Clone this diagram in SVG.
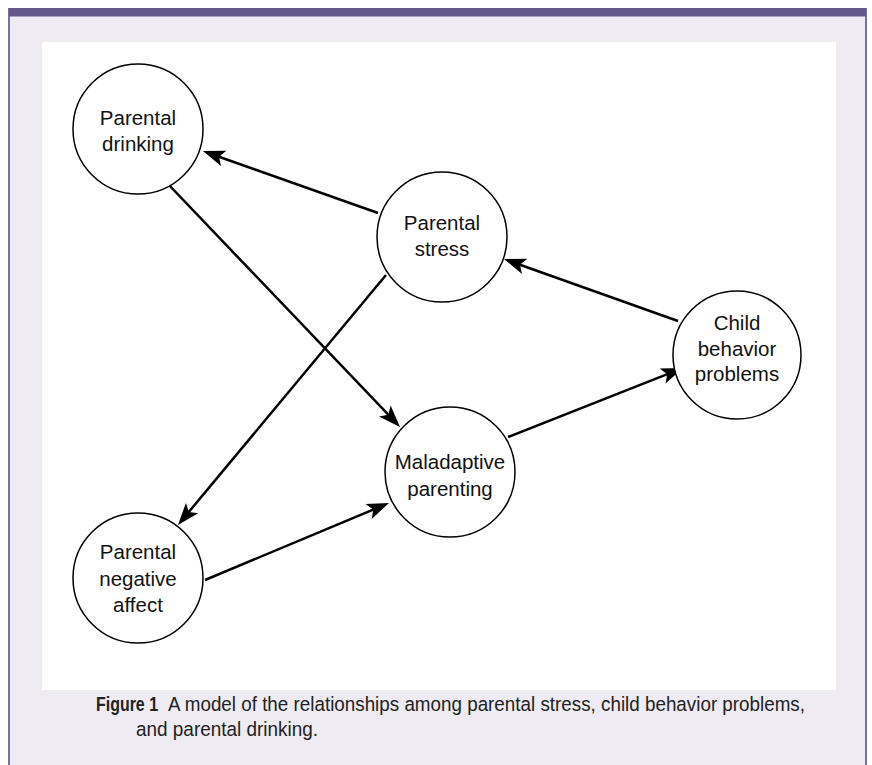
<svg xmlns="http://www.w3.org/2000/svg" width="872" height="765" viewBox="0 0 872 765">
<style>
.node circle{fill:#fff;stroke:#000;stroke-width:1.5}
.node text{font-family:"Liberation Sans",Arial,sans-serif;font-size:20.5px;fill:#111;text-anchor:middle}
.edge{stroke:#000;stroke-width:2.5;fill:none;marker-end:url(#ah)}
.cap{font-family:"Liberation Sans",Arial,sans-serif;font-size:20.5px;fill:#222}
</style>
<defs>
<marker id="ah" markerUnits="userSpaceOnUse" viewBox="-15 -9 24 18" markerWidth="24" markerHeight="18" refX="0" refY="0" orient="auto" overflow="visible">
<path d="M8,0 L-14,-8 L-9,0 L-14,8 Z" fill="#000"/>
</marker>
</defs>
<rect x="0" y="0" width="872" height="765" fill="#fff"/>
<rect x="9" y="8" width="857" height="757" fill="#eeecf2"/>
<line x1="9" y1="8" x2="9" y2="765" stroke="#7a6fa3" stroke-width="2"/>
<line x1="866" y1="8" x2="866" y2="765" stroke="#7a6fa3" stroke-width="2"/>
<rect x="9" y="8" width="857" height="8.5" fill="#645889"/>
<rect x="42" y="42" width="794" height="648" fill="#fff"/>
<g id="connectors">
<line class="edge" x1="378" y1="213" x2="210.5" y2="153.7"/>
<line class="edge" x1="168" y1="184" x2="394.5" y2="421.2"/>
<line class="edge" x1="386" y1="275" x2="183.1" y2="518.8"/>
<line class="edge" x1="205" y1="580" x2="381.6" y2="506.1"/>
<line class="edge" x1="508" y1="437" x2="675.6" y2="370.9"/>
<line class="edge" x1="678" y1="321" x2="511.5" y2="261.7"/>
</g>
<g id="parental-drinking" class="node">
<circle cx="138" cy="129" r="65"/>
<text x="138" y="125">Parental</text>
<text x="138" y="151">drinking</text>
</g>
<g id="parental-stress" class="node">
<circle cx="442" cy="237" r="65"/>
<text x="442" y="230">Parental</text>
<text x="442" y="256">stress</text>
</g>
<g id="child-behavior-problems" class="node">
<circle cx="737" cy="355" r="64"/>
<text x="737" y="330">Child</text>
<text x="737" y="356">behavior</text>
<text x="737" y="381">problems</text>
</g>
<g id="maladaptive-parenting" class="node">
<circle cx="450" cy="472" r="65"/>
<text x="450" y="469">Maladaptive</text>
<text x="450" y="496">parenting</text>
</g>
<g id="parental-negative-affect" class="node">
<circle cx="138" cy="578" r="65"/>
<text x="138" y="559">Parental</text>
<text x="138" y="586">negative</text>
<text x="138" y="612">affect</text>
</g>
<g id="caption">
<text class="cap" x="96" y="711" font-weight="bold" textLength="62" lengthAdjust="spacingAndGlyphs">Figure 1</text>
<text class="cap" x="168" y="711" textLength="637" lengthAdjust="spacingAndGlyphs">A model of the relationships among parental stress, child behavior problems,</text>
<text class="cap" x="136" y="736" textLength="182" lengthAdjust="spacingAndGlyphs">and parental drinking.</text>
</g>
</svg>
